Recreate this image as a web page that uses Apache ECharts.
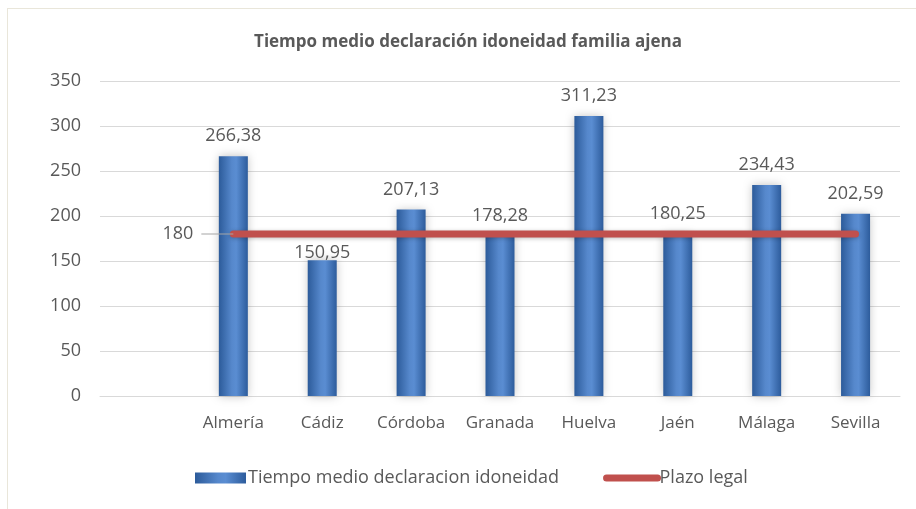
<!DOCTYPE html>
<html>
<head>
<meta charset="utf-8">
<script src="https://cdn.jsdelivr.net/npm/echarts@6/dist/echarts.min.js"></script>
<style>
  html, body { margin: 0; padding: 0; background: #fff; }
  #frame { position: absolute; left: 7px; top: 8px; width: 909px; height: 501px;
           border-left: 1px solid #e9e6da; border-top: 1px solid #e9e6da; }
  #chart { position: absolute; left: 0; top: 0; width: 916px; height: 509px; }
</style>
</head>
<body>
<div id="frame"></div>
<div id="chart"></div>
<script>
// categories (first slot is left empty, as in the original)
const provincias = ["", "Almería", "Cádiz", "Córdoba", "Granada", "Huelva", "Jaén", "Málaga", "Sevilla"];
const tiempoMedio = ["-", 266.38, 150.95, 207.13, 178.28, 311.23, 180.25, 234.43, 202.59];
const plazoLegal = ["-", 180, 180, 180, 180, 180, 180, 180, 180];
const yTicks = { min: 0, max: 350, interval: 50 };

const serieBarras = "Tiempo medio declaracion idoneidad";
const serieLinea = "Plazo legal";

const fontFam = "'Open Sans', 'Noto Sans', sans-serif";
const grey = "#595959";
const red = "#c0504d";

const chart = echarts.init(document.getElementById("chart"), null, { renderer: "canvas" });

const barFill = new echarts.graphic.LinearGradient(0, 0, 1, 0, [
    { offset: 0, color: "#2c5b9a" },
    { offset: 0.45, color: "#5688cc" },
    { offset: 0.6, color: "#5a8dd2" },
    { offset: 1, color: "#2d5c9c" },
]);

const fmt = (v) => Number(v).toFixed(2).replace(".", ",");

// Cádiz label sits almost on its bar in the original
const barData = tiempoMedio.map((v, i) =>
    provincias[i] === "Cádiz" ? { value: v, label: { distance: -2 } } : v
);

// only the first point of the legal-limit line carries a label, with a short leader
const lineData = plazoLegal.map((v, i) =>
    i === 1
        ? {
              value: v,
              label: {
                  show: true,
                  position: "left",
                  distance: 0,
                  formatter: "{v|{c}}{g|}",
                  rich: {
                      v: { fontFamily: fontFam, fontSize: 18, color: grey, padding: [0, 8, 0, 0] },
                      g: { width: 32, height: 1, backgroundColor: "#a6a6a6", verticalAlign: "middle" },
                  },
              },
          }
        : v
);

const option = {
    backgroundColor: "transparent",
    animation: false,
    title: {
        text: "Tiempo medio declaración idoneidad familia ajena",
        left: 463,
        textAlign: "center",
        top: 29,
        textStyle: { fontFamily: fontFam, fontSize: 17, fontWeight: "bold", color: grey },
    },
    grid: { left: 100, right: 16, top: 81, bottom: 113 },
    legend: {
        left: 195,
        top: 469,
        padding: 0,
        itemWidth: 51,
        itemHeight: 11,
        itemGap: 44,
        textStyle: { fontFamily: fontFam, fontSize: 18, color: grey, padding: [0, 0, 0, -3] },
        data: [
            { name: serieBarras, icon: "rect" },
            { name: serieLinea, itemStyle: { opacity: 0 }, lineStyle: { width: 7, cap: "round", color: red } },
        ],
    },
    xAxis: {
        type: "category",
        data: provincias,
        axisTick: { show: false },
        axisLine: { lineStyle: { color: "#d9d9d9", width: 1 } },
        axisLabel: { interval: 0, fontFamily: fontFam, fontSize: 17, color: grey, margin: 19 },
    },
    yAxis: {
        type: "value",
        min: yTicks.min,
        max: yTicks.max,
        interval: yTicks.interval,
        axisLine: { show: false },
        axisTick: { show: false },
        splitLine: { lineStyle: { color: "#d9d9d9", width: 1 } },
        axisLabel: { fontFamily: fontFam, fontSize: 18, color: grey, margin: 19 },
    },
    series: [
        {
            name: serieBarras,
            type: "bar",
            data: barData,
            barWidth: 29,
            itemStyle: {
                color: barFill,
                shadowColor: "rgba(0,0,0,0.25)",
                shadowBlur: 9,
            },
            label: {
                show: true,
                position: "top",
                distance: 11,
                formatter: (p) => fmt(p.value),
                fontFamily: fontFam,
                fontSize: 18,
                color: grey,
            },
            z: 2,
        },
        {
            name: serieLinea,
            type: "line",
            data: lineData,
            symbol: "circle",
            symbolSize: 0,
            showSymbol: true,
            lineStyle: {
                color: red,
                width: 7,
                cap: "round",
                shadowColor: "rgba(0,0,0,0.25)",
                shadowBlur: 4,
                shadowOffsetY: 1,
            },
            itemStyle: { color: red, borderWidth: 0 },
            label: { show: false },
            z: 3,
        },
    ],
};

chart.setOption(option);
window.addEventListener("resize", () => chart.resize());
</script>
</body>
</html>
